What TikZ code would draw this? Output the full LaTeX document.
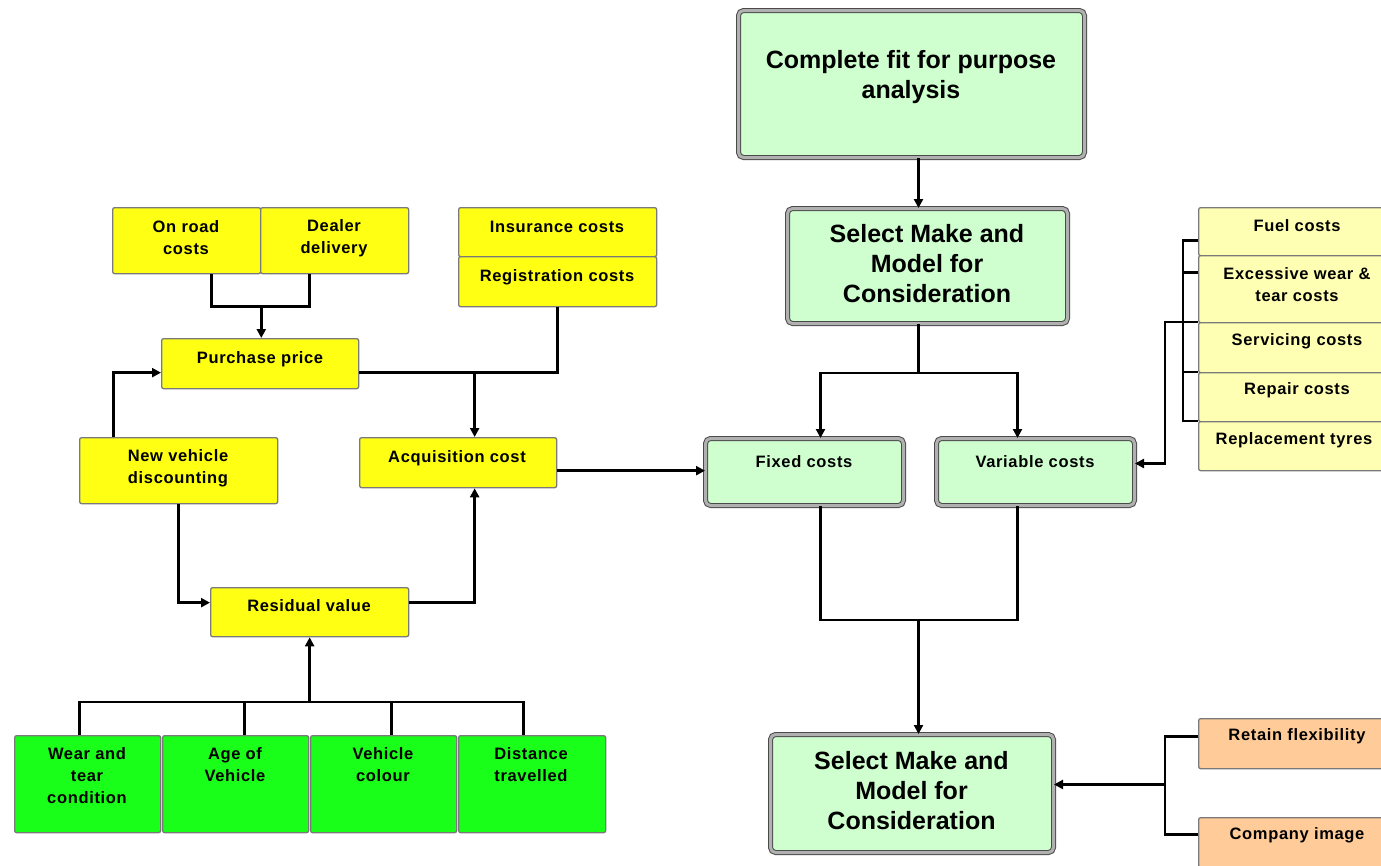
\documentclass[tikz,border=0pt]{standalone}
\usepackage{fontspec}
\setmainfont{Liberation Sans}
\newfontfamily\spacedfont[LetterSpace=4]{Liberation Sans}
\usetikzlibrary{arrows.meta,calc}
\definecolor{yel}{HTML}{FFFF14}
\definecolor{lyel}{HTML}{FFFFB3}
\definecolor{grn}{HTML}{1AFF1A}
\definecolor{lgrn}{HTML}{CFFFCF}
\definecolor{org}{HTML}{FFCC99}
\definecolor{bgr}{HTML}{7A7A7A}
\definecolor{dgr}{HTML}{4A4A4A}
\definecolor{mgr}{HTML}{B0B0B0}
\tikzset{
 basebox/.style={draw=bgr, line width=1.3pt, rounded corners=2pt, inner sep=0pt},
 ybox/.style={basebox, fill=yel},
 lybox/.style={basebox, fill=lyel},
 gbox/.style={basebox, fill=grn},
 obox/.style={basebox, fill=org},
 dbox/.style={fill=lgrn, draw=dgr, line width=1pt, double=mgr, double distance=3pt, rounded corners=5pt, inner sep=0pt},
 stxt/.style={font=\spacedfont\bfseries\fontsize{16.5}{22}\selectfont, align=center, inner sep=0pt},
 btxt/.style={font=\bfseries\fontsize{25}{30}\selectfont, align=center, inner sep=0pt},
 conn/.style={draw=black, line width=2.8pt},
 arr/.style={conn, -{Triangle[length=9pt,width=9pt]}},
}
\newcommand\mybox[6]{\node[#2, anchor=north west, minimum width={(#5)-(#3)}, minimum height={(#6)-(#4)}] (#1) at (#3,-#4) {};}
\begin{document}
\begin{tikzpicture}[x=1pt,y=1pt]
\clip (0,0) rectangle (1381,-865);
\fill[white] (0,0) rectangle (1381,-865);
% boxes
\mybox{cfit}{dbox}{738}{10}{1084}{157}
\mybox{sel1}{dbox}{787}{208}{1067}{323}
\mybox{fixed}{dbox}{705}{438}{903}{505}
\mybox{var}{dbox}{936}{438}{1134}{505}
\mybox{sel2}{dbox}{770}{734}{1053}{852}
\mybox{fuel}{lybox}{1198}{207}{1396}{255}
\mybox{exc}{lybox}{1198}{255}{1396}{322}
\mybox{serv}{lybox}{1198}{322}{1396}{372}
\mybox{rep}{lybox}{1198}{372}{1396}{421}
\mybox{tyre}{lybox}{1198}{421}{1396}{470}
\mybox{ret}{obox}{1198}{718}{1396}{768}
\mybox{comp}{obox}{1198}{817}{1396}{867}
\mybox{onroad}{ybox}{112}{207}{260}{273}
\mybox{dealer}{ybox}{260}{207}{408}{273}
\mybox{ins}{ybox}{458}{207}{656}{256}
\mybox{reg}{ybox}{458}{256}{656}{306}
\mybox{pp}{ybox}{161}{338}{358}{388}
\mybox{nvd}{ybox}{79}{437}{277}{503}
\mybox{acq}{ybox}{359}{437}{556}{487}
\mybox{rv}{ybox}{210}{587}{408}{636}
\mybox{wear}{gbox}{14}{735}{160}{832}
\mybox{age}{gbox}{162}{735}{308}{832}
\mybox{col}{gbox}{310}{735}{456}{832}
\mybox{dist}{gbox}{458}{735}{605}{832}
% texts
\node[btxt] (cfit-t) at (911,-77) {Complete fit for purpose\\analysis};
\node[btxt] (sel1-t) at (927,-264) {Select Make and\\Model for\\Consideration};
\node[btxt] (sel2-t) at (911.5,-791) {Select Make and\\Model for\\Consideration};
\node[stxt] (fixed-t) at (804,-462) {Fixed costs};
\node[stxt] (var-t) at (1035,-462) {Variable costs};
\node[stxt] (fuel-t) at (1297,-226) {Fuel costs};
\node[stxt] (exc-t) at (1297,-285) {Excessive wear \&\\tear costs};
\node[stxt] (serv-t) at (1297,-341) {Servicing costs};
\node[stxt] (rep-t) at (1297,-390) {Repair costs};
\node[stxt] (tyre-t) at (1294,-440) {Replacement tyres};
\node[stxt] (ret-t) at (1297,-736) {Retain flexibility};
\node[stxt] (comp-t) at (1297,-835) {Company image};
\node[stxt] (onroad-t) at (186,-238) {On road\\costs};
\node[stxt] (dealer-t) at (334,-238) {Dealer\\delivery};
\node[stxt] (ins-t) at (557,-227) {Insurance costs};
\node[stxt] (reg-t) at (557,-277) {Registration costs};
\node[stxt] (pp-t) at (260,-359) {Purchase price};
\node[stxt] (nvd-t) at (178,-468) {New vehicle\\discounting};
\node[stxt] (acq-t) at (457,-458) {Acquisition cost};
\node[stxt] (rv-t) at (309,-606) {Residual value};
\node[stxt] (wear-t) at (87,-776) {Wear and\\tear\\condition};
\node[stxt] (age-t) at (235,-765) {Age of\\Vehicle};
\node[stxt] (col-t) at (383,-765) {Vehicle\\colour};
\node[stxt] (dist-t) at (531,-765) {Distance\\travelled};
% helper coordinates
\coordinate (c1) at ([xshift=7pt]cfit.south);
\coordinate (fT) at ([xshift=16pt]fixed.north);
\coordinate (vT) at ([xshift=-18pt]var.north);
\coordinate (fB) at ([xshift=16pt]fixed.south);
\coordinate (vB) at ([xshift=-18pt]var.south);
\coordinate (vR) at ([yshift=8.5pt]var.east);
\coordinate (s2R) at ([yshift=9pt]sel2.east);
\coordinate (ob) at ([xshift=-33pt]ret.west);
\coordinate (j1) at ([yshift=-32pt]onroad.south east);
\coordinate (ppR) at ([yshift=-9pt]pp.east);
\coordinate (ppL) at ([yshift=-9pt]pp.west);
\coordinate (acqT) at ([xshift=16.5pt]acq.north);
\coordinate (acqB) at ([xshift=16.5pt]acq.south);
\coordinate (acqR) at ([yshift=-8pt]acq.east);
\coordinate (nvdT) at ([xshift=-65pt]nvd.north);
\coordinate (rvL) at ([yshift=9.5pt]rv.west);
\coordinate (rvR) at ([yshift=9.5pt]rv.east);
\coordinate (gb) at ([yshift=33pt]wear.north);
% right-hand connectors
\draw[arr] (c1) -- (c1 |- sel1.north);
\draw[conn] (c1 |- sel1.south) -- ++(0,-49) coordinate (s1b);
\draw[arr] (s1b) -| (fT);
\draw[arr] (s1b) -| (vT);
\draw[conn] (fB) -- ++(0,-114) coordinate (bar2) -| (vB);
\draw[arr] (bar2 -| c1) -- (c1 |- sel2.north);
\draw[conn] ([yshift=-9pt]fuel.west) -- ++(-15,0) |- (tyre.north west);
\draw[conn] ([yshift=16.5pt]exc.west) -- ++(-15,0);
\draw[conn] (rep.north west) -- ++(-15,0);
\draw[arr] (serv.north west) -- ++(-33,0) |- (vR);
\draw[conn] ([yshift=7pt]ret.west) -- ++(-33,0) |- ([yshift=8pt]comp.west);
\draw[arr] (ob |- s2R) -- (s2R);
% left-hand connectors
\draw[conn] ([xshift=25pt]onroad.south) -- ++(0,-32) -| ([xshift=-25pt]dealer.south);
\draw[arr] (j1) -- (j1 |- pp.north);
\draw[conn] (reg.south) |- (ppR);
\draw[arr] (acqT |- ppR) -- (acqT);
\draw[arr] (nvdT) |- (ppL);
\draw[arr] (nvd.south) |- (rvL);
\draw[arr] (rvR) -| (acqB);
\draw[arr] (acqR) -- (acqR -| fixed.west);
\draw[conn] ([xshift=-8pt]wear.north) -- ++(0,33) -| ([xshift=-8.5pt]dist.north);
\draw[conn] ([xshift=9pt]age.north) -- ++(0,33);
\draw[conn] ([xshift=8pt]col.north) -- ++(0,33);
\draw[arr] (gb -| rv.south) -- (rv.south);
\end{tikzpicture}
\end{document}
